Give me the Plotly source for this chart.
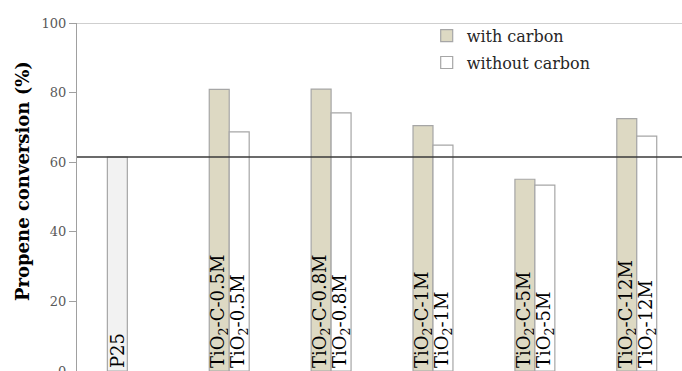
import plotly.graph_objects as go

# ---- data ----
categories = ["P25", "0.5M", "0.8M", "1M", "5M", "12M"]
p25_value = [61.5]
with_carbon = [80.9, 81.0, 70.5, 55.1, 72.5]
without_carbon = [68.7, 74.2, 64.9, 53.4, 67.5]
with_labels = ["TiO<sub>2</sub>-C-0.5M", "TiO<sub>2</sub>-C-0.8M", "TiO<sub>2</sub>-C-1M",
               "TiO<sub>2</sub>-C-5M", "TiO<sub>2</sub>-C-12M"]
without_labels = ["TiO<sub>2</sub>-0.5M", "TiO<sub>2</sub>-0.8M", "TiO<sub>2</sub>-1M",
                  "TiO<sub>2</sub>-5M", "TiO<sub>2</sub>-12M"]
y_ticks = [0, 20, 40, 60, 80, 100]
reference_level = p25_value[0]

SERIF = "DejaVu Serif"
TAN = "#ddd9c3"
EDGE = "#a6a6a6"

fig = go.Figure()

label_font = dict(family=SERIF, size=18, color="black")
common = dict(
    textposition="inside", insidetextanchor="start", textangle=-90,
    constraintext="none", cliponaxis=False,
    textfont=label_font, insidetextfont=label_font,
    marker_line=dict(color=EDGE, width=1.2),
    width=0.196,
)

fig.add_trace(go.Bar(
    x=categories[:1], y=p25_value, text=["P25"], offset=-0.196,
    marker_color="#f2f2f2", showlegend=False, **common))
fig.add_trace(go.Bar(
    x=categories[1:], y=with_carbon, text=with_labels, offset=-0.196,
    marker_color=TAN, name="with carbon", legendgroup="a", **common))
fig.add_trace(go.Bar(
    x=categories[1:], y=without_carbon, text=without_labels, offset=0.0,
    marker_color="white", name="without carbon", legendgroup="b", **common))

fig.add_shape(type="line", xref="paper", x0=0, x1=1, yref="y",
              y0=reference_level, y1=reference_level,
              line=dict(color="#3a3a3a", width=1.3))
fig.add_shape(type="line", xref="paper", x0=0, x1=1, yref="y",
              y0=100, y1=100, line=dict(color="#a0a0a0", width=1.2))

fig.add_annotation(
    text="<b>Propene conversion (%)</b>", xref="paper", yref="paper",
    x=0, y=0.546, xshift=-54, xanchor="center", yanchor="middle",
    textangle=-90, showarrow=False,
    font=dict(family=SERIF, size=18, color="black"))

fig.update_layout(
    width=682, height=371,
    margin=dict(l=77, r=0, t=23, b=0, autoexpand=False),
    paper_bgcolor="white", plot_bgcolor="white",
    barmode="overlay",
    showlegend=True,
    legend=dict(x=0.578, y=1.012, xanchor="left", yanchor="top",
                bgcolor="rgba(0,0,0,0)", tracegroupgap=3,
                font=dict(family=SERIF, size=16, color="#262626"),
                traceorder="grouped"),
    xaxis=dict(type="category", range=[-0.494, 5.444], showticklabels=False,
               showgrid=False, zeroline=False, showline=True, automargin=False,
               linecolor="#d0d0d0", ticks=""),
    yaxis=dict(range=[0, 100], tickvals=y_ticks, showgrid=False, zeroline=False,
               showline=True, linecolor="#a0a0a0", linewidth=1.2, automargin=False,
               ticks="outside", ticklen=7, tickcolor="#a0a0a0",
               ticklabeloverflow="allow",
               tickfont=dict(family=SERIF, size=13, color="#595959")),
)

fig.write_html("out.html")
